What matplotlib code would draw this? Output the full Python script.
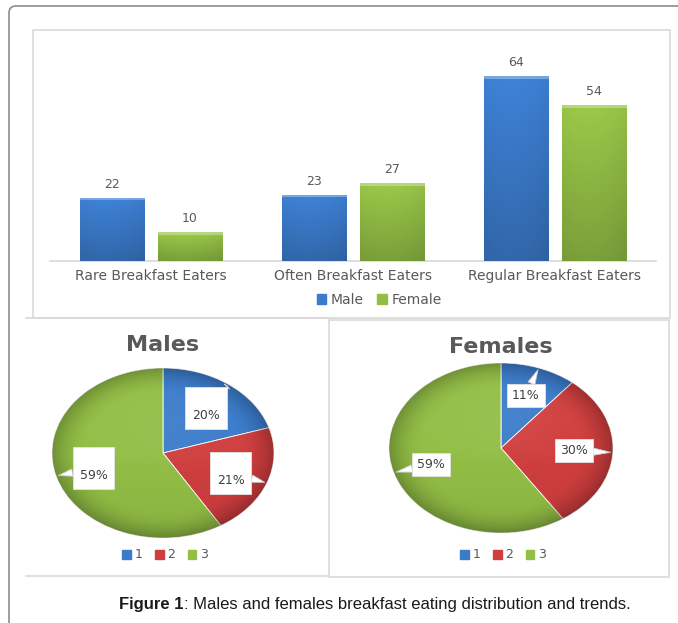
import numpy as np
import matplotlib
matplotlib.use("Agg")
import matplotlib.pyplot as plt
from matplotlib.patches import Rectangle, Circle, FancyBboxPatch, Patch
from matplotlib.lines import Line2D
from matplotlib.colors import to_rgb

categories = ["Rare Breakfast Eaters", "Often Breakfast Eaters", "Regular Breakfast Eaters"]
male = [22, 23, 64]
female = [10, 27, 54]
series_names = ["Male", "Female"]
slice_names = ["1", "2", "3"]
caption_bold = "Figure 1"
caption_rest = ": Males and females breakfast eating distribution and trends."

BLUE = "#3B7BCB"
GREEN = "#92BE45"
RED = "#D03E3E"
TXT = "#595959"
EDGE = "#D9D9D9"

W, H = 678, 623
fig = plt.figure(figsize=(W / 100, H / 100), dpi=100)


def box(x0, y0, x1, y1):
    # pixel box measured from the top-left corner -> figure fraction
    return [x0 / W, 1 - y1 / H, (x1 - x0) / W, (y1 - y0) / H]


def shade_bar(ax, bar, color):
    x0, w, h = bar.get_x(), bar.get_width(), bar.get_height()
    base = np.array(to_rgb(color))
    px_h = ax.transData.transform((0, h))[1] - ax.transData.transform((0, 0))[1]
    n = max(int(px_h), 2)
    t = np.linspace(0, 1, n)[:, None, None]
    s = np.linspace(0, 1, 40)[None, :, None]
    f = 1.06 - 0.22 * t - 0.15 * (s - 0.4) ** 2
    img = np.clip(base * f, 0, 1) * np.ones((n, 40, 3))
    bevel = int(min(3, n // 3))
    img[:bevel] = img[:bevel] * 0.7 + 0.3
    im = ax.imshow(img, extent=(x0, x0 + w, 0, h), aspect="auto", zorder=3, interpolation="bilinear")
    im.set_clip_path(bar)


# outer frame and panel borders
fig.add_artist(FancyBboxPatch((0.09, -0.3), 7.1, 6.47, boxstyle="round,pad=0,rounding_size=0.07",
                              transform=fig.dpi_scale_trans, fc="none", ec="#8C8C8C", lw=1.2))
fig.add_artist(Rectangle((0.33, 3.05), 6.37, 2.88, transform=fig.dpi_scale_trans,
                         fc="none", ec=EDGE, lw=1.2))
fig.add_artist(Line2D([0.26, 3.29], [3.05, 3.05], transform=fig.dpi_scale_trans, color=EDGE, lw=1.2))
fig.add_artist(Line2D([0.26, 3.28], [0.47, 0.47], transform=fig.dpi_scale_trans, color=EDGE, lw=1.2))
fig.add_artist(Rectangle((3.29, 0.46), 3.40, 2.57, transform=fig.dpi_scale_trans,
                         fc="none", ec=EDGE, lw=1.2))

# grouped bar chart
ax = fig.add_axes(box(50, 59, 656, 261))
x = np.arange(len(categories))
bw, off = 0.317, 0.193
bars_m = ax.bar(x - off, male, bw, color=BLUE, zorder=2)
bars_f = ax.bar(x + off, female, bw, color=GREEN, zorder=2)
ax.set_xlim(-0.5, 2.5)
ax.set_ylim(0, 70)
ax.set_autoscale_on(False)
for bars, color in ((bars_m, BLUE), (bars_f, GREEN)):
    for b in bars:
        shade_bar(ax, b, color)
        ax.annotate(f"{b.get_height():.0f}", (b.get_x() + b.get_width() / 2, b.get_height()),
                    xytext=(0, 5), textcoords="offset points", ha="center", va="bottom",
                    fontsize=9, color=TXT)
ax.set_xlim(-0.5, 2.5)
ax.set_ylim(0, 70)
for side in ("top", "left", "right"):
    ax.spines[side].set_visible(False)
ax.spines["bottom"].set_color(EDGE)
ax.spines["bottom"].set_linewidth(1.2)
ax.set_yticks([])
ax.set_xticks(x)
ax.set_xticklabels(categories, fontsize=10, color=TXT)
ax.tick_params(axis="x", length=0, pad=6)
ax.patch.set_alpha(0)

fig.legend(handles=[Patch(color=BLUE), Patch(color=GREEN)], labels=series_names,
           loc="center", bbox_to_anchor=(379 / W, 1 - 300 / H), ncol=2, frameon=False,
           handlelength=0.7, handleheight=0.7, handletextpad=0.3, columnspacing=1.0,
           fontsize=10, labelcolor=TXT)


def draw_pie(values, title, cx, cy, rx, ry, title_y, legend_x, tall):
    lim = 1.04
    pax = fig.add_axes(box(cx - rx * lim, cy - ry * lim, cx + rx * lim, cy + ry * lim))
    pax.pie(values, colors=[BLUE, RED, GREEN], startangle=90, counterclock=False,
            wedgeprops=dict(edgecolor="white", linewidth=0.6))
    pax.set_aspect("auto")
    pax.set_xlim(-lim, lim)
    pax.set_ylim(-lim, lim)
    pax.set_autoscale_on(False)

    # 3D-ish shading: slightly darker rim, light sheen towards the top
    gx, gy = np.meshgrid(np.linspace(-1, 1, 240), np.linspace(1, -1, 240))
    r = np.hypot(gx, gy)
    dark = np.zeros((240, 240, 4))
    dark[..., 3] = 0.24 * np.clip((r - 0.7) / 0.3, 0, 1) ** 1.8 + 0.06 * np.clip(-gy, 0, 1)
    sheen = np.ones((240, 240, 4))
    sheen[..., 3] = 0.14 * np.clip(gy + 0.3, 0, 1) * np.clip(1 - r, 0, 1)
    for layer in (dark, sheen):
        im = pax.imshow(layer, extent=(-1, 1, -1, 1), aspect="auto", zorder=3, interpolation="bilinear")
        im.set_clip_path(Circle((0, 0), 1, transform=pax.transData))

    shares = np.array(values, dtype=float) / sum(values)
    start = np.concatenate([[0], np.cumsum(shares)[:-1]])
    for s0, p in zip(start, shares):
        ang = np.deg2rad(90 - 360 * (s0 + p / 2))
        label = f"{p * 100:.0f}%"
        pad = 0.55 if tall else 0.4
        pax.annotate("\n" + label if tall else label,
                     xy=(0.98 * np.cos(ang), 0.98 * np.sin(ang)),
                     xytext=(0.65 * np.cos(ang), 0.66 * np.sin(ang)),
                     ha="center", va="center", fontsize=9, color="#404040", zorder=5,
                     bbox=dict(boxstyle=f"square,pad={pad}", fc="white", ec="#E3E3E3", lw=0.6),
                     arrowprops=dict(arrowstyle="wedge,tail_width=0.6,shrink_factor=0.5",
                                     fc="white", ec="#C8C8C8", lw=0.6, shrinkA=0, shrinkB=0))

    fig.text(cx / W, 1 - title_y / H, title, ha="center", va="center",
             fontsize=16, fontweight="bold", color=TXT)
    fig.legend(handles=[Patch(color=c) for c in (BLUE, RED, GREEN)], labels=slice_names,
               loc="center", bbox_to_anchor=(legend_x / W, 1 - 555 / H), ncol=3, frameon=False,
               handlelength=0.7, handleheight=0.7, handletextpad=0.3, columnspacing=1.0,
               fontsize=9, labelcolor=TXT)


draw_pie(male, "Males", 163, 453, 111, 85, 345, 165, True)
draw_pie(female, "Females", 501, 448, 112, 85, 347, 503, False)

# caption: bold lead-in followed by regular text, centred as one line
renderer = fig.canvas.get_renderer()
cap_kw = dict(fontsize=12, family="Liberation Sans", va="center", color="#1A1A1A")
t1 = fig.text(0, 0, caption_bold, fontweight="bold", **cap_kw)
t2 = fig.text(0, 0, caption_rest, **cap_kw)
w1 = t1.get_window_extent(renderer).width
w2 = t2.get_window_extent(renderer).width
x_start = 375 - (w1 + w2) / 2
y_cap = 1 - 605 / H
t1.set_position((x_start / W, y_cap))
t2.set_position(((x_start + w1) / W, y_cap))

fig.savefig("out.png", dpi=100, facecolor="white")
